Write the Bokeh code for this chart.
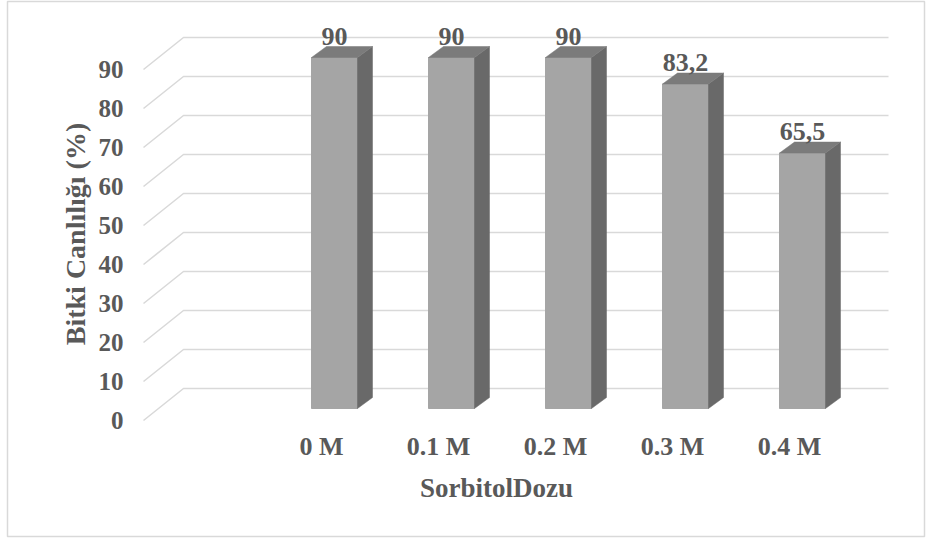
import math

from bokeh.plotting import figure
from bokeh.models import Range1d, ColumnDataSource
from bokeh.core.properties import value
from bokeh.embed import file_html
from bokeh.resources import INLINE

# ---- data -------------------------------------------------------------
doses = ["0 M", "0.1 M", "0.2 M", "0.3 M", "0.4 M"]
viability = [90, 90, 90, 83.2, 65.5]
y_ticks = [0, 10, 20, 30, 40, 50, 60, 70, 80, 90]
y_title = "Bitki Canlılığı (%)"
x_title = "SorbitolDozu"

# ---- canvas / scale ---------------------------------------------------
W, H = 931, 538
BL, BT, BR, BB = 7, 1, 7, 2            # space around the framed area
FW, FH = W - BL - BR, H - BT - BB

SX = 117.0                              # px per category step
SY = 3.9                                # px per percent
X_ORIGIN = 334 - BL                     # first bar centre, frame px
Y_ORIGIN = 408 - BT                     # bar-front baseline, frame px


def dx(px):
    return px / SX


def dy(px):
    return px / SY


x_start = -X_ORIGIN / SX
x_end = (FW - X_ORIGIN) / SX
y_end = Y_ORIGIN / SY
y_start = -(FH - Y_ORIGIN) / SY

# pseudo-3D geometry (in data units)
BAR_W = dx(46)
BAR_DX, BAR_DY = dx(15), dy(11)         # bar depth
WALL_UP = dy(20)                        # back wall sits above bar fronts
FLOOR_DOWN = dy(-12)                    # floor front edge below bar fronts
WALL_LEFT = dx(183 - 334)
WALL_RIGHT = dx(888 - 334)
FLOOR_DX = dx(-40)

FONT = value("Liberation Serif")
TXT = "#595959"
GRID = "#d9d9d9"
FRONT, SIDE, TOP = "#a5a5a5", "#696969", "#7b7b7b"

p = figure(
    width=W, height=H,
    x_range=Range1d(x_start, x_end), y_range=Range1d(y_start, y_end),
    x_axis_type=None, y_axis_type=None,
    toolbar_location=None, output_backend="svg",
    min_border_left=BL, min_border_right=BR,
    min_border_top=BT, min_border_bottom=BB,
)
p.outline_line_color = "#d9d9d9"
p.outline_line_width = 1.5
p.background_fill_color = "white"
p.border_fill_color = "white"

# gridlines: floor diagonal + back-wall horizontal
gx = [[WALL_LEFT + FLOOR_DX, WALL_LEFT, WALL_RIGHT] for _ in y_ticks]
gy = [[t + FLOOR_DOWN, t + WALL_UP, t + WALL_UP] for t in y_ticks]
p.multi_line(gx, gy, line_color=GRID, line_width=1.6)

# bars
xs = list(range(len(doses)))
src = ColumnDataSource(dict(x=xs, top=viability))
p.vbar(x="x", top="top", bottom=0, width=BAR_W, source=src,
       fill_color=FRONT, line_color=FRONT)

side_x, side_y, top_x, top_y = [], [], [], []
for x, v in zip(xs, viability):
    r = x + BAR_W / 2
    l = x - BAR_W / 2
    side_x.append([r, r + BAR_DX, r + BAR_DX, r])
    side_y.append([0, BAR_DY, v + BAR_DY, v])
    top_x.append([l, r, r + BAR_DX, l + BAR_DX])
    top_y.append([v, v, v + BAR_DY, v + BAR_DY])
p.patches(side_x, side_y, fill_color=SIDE, line_color=SIDE, line_width=0.5)
p.patches(top_x, top_y, fill_color=TOP, line_color=TOP, line_width=0.5)

# value labels
labels = [f"{v:g}".replace(".", ",") for v in viability]
p.text(x=xs, y=viability, text=labels, y_offset=-13,
       text_align="center", text_baseline="bottom",
       text_font=FONT, text_font_style="bold", text_font_size="26px",
       text_color=TXT)

# y tick labels at the floor's front edge
tick_x = WALL_LEFT + FLOOR_DX - dx(20)
p.text(x=[tick_x] * len(y_ticks), y=[t + FLOOR_DOWN for t in y_ticks],
       text=[str(t) for t in y_ticks],
       text_align="right", text_baseline="middle",
       text_font=FONT, text_font_style="bold", text_font_size="25px",
       text_color=TXT)

# category labels
p.text(x=[x + dx(-13) for x in xs], y=[0] * len(xs), text=doses,
       y_offset=38, text_align="center", text_baseline="middle",
       text_font=FONT, text_font_style="bold", text_font_size="26px",
       text_color=TXT)

# axis titles
p.text(x=[dx(496 - 334)], y=[dy(408 - 487)], text=[x_title],
       text_align="center", text_baseline="middle",
       text_font=FONT, text_font_style="bold", text_font_size="27px",
       text_color=TXT)
p.text(x=[dx(75 - 334)], y=[dy(408 - 233.5)], text=[y_title],
       angle=math.pi / 2,
       text_align="center", text_baseline="middle",
       text_font=FONT, text_font_style="bold", text_font_size="28px",
       text_color=TXT)

open("out.html", "w").write(file_html(p, INLINE))
